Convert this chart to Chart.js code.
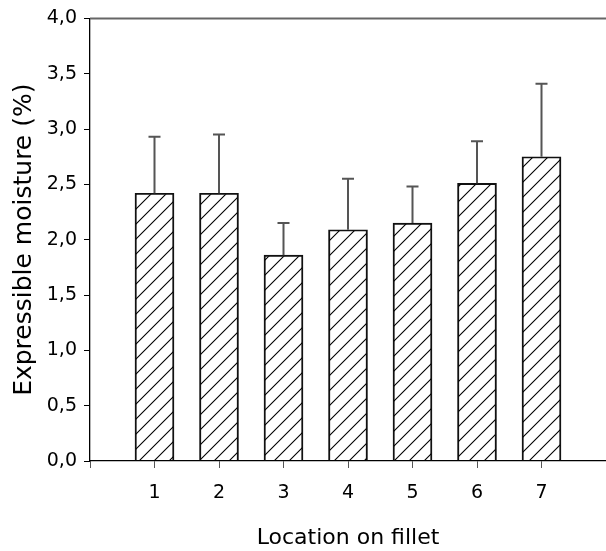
<!DOCTYPE html>
<html>
<head>
<meta charset="utf-8">
<script src="https://cdn.jsdelivr.net/npm/chart.js@4/dist/chart.umd.min.js"></script>
<style>
  html, body { margin: 0; padding: 0; background: #fff; }
  #wrap { width: 606px; height: 551px; }
</style>
</head>
<body>
<div id="wrap"><canvas id="chart"></canvas></div>
<script>
// locations along the fillet, mean expressible moisture and the upper SD
const locations = [1, 2, 3, 4, 5, 6, 7];
const moisture  = [2.42, 2.42, 1.86, 2.09, 2.15, 2.51, 2.75];
const sdUpper   = [0.51, 0.53, 0.29, 0.46, 0.33, 0.38, 0.66];

// diagonal hatch fill
function hatch() {
  const c = document.createElement('canvas');
  c.width = 15; c.height = 15;
  const g = c.getContext('2d');
  g.strokeStyle = '#000';
  g.lineWidth = 1.1;
  g.beginPath();
  g.moveTo(-1, 16); g.lineTo(16, -1);
  g.moveTo(-1, 1); g.lineTo(1, -1);
  g.moveTo(14, 16); g.lineTo(16, 14);
  g.stroke();
  return g.createPattern(c, 'repeat');
}

const errorBars = {
  id: 'errorBars',
  afterDatasetsDraw(chart) {
    const { ctx, scales: { x, y } } = chart;
    ctx.save();
    ctx.strokeStyle = '#555';
    ctx.lineWidth = 2;
    locations.forEach((loc, i) => {
      const px = x.getPixelForValue(loc);
      const y0 = y.getPixelForValue(moisture[i]);
      const y1 = y.getPixelForValue(moisture[i] + sdUpper[i]);
      ctx.beginPath();
      ctx.moveTo(px, y0); ctx.lineTo(px, y1);
      ctx.moveTo(px - 6, y1); ctx.lineTo(px + 6, y1);
      ctx.stroke();
    });
    ctx.restore();
  }
};

const topLine = {
  id: 'topLine',
  afterDraw(chart) {
    const { ctx, chartArea: a } = chart;
    ctx.save();
    ctx.strokeStyle = '#666';
    ctx.lineWidth = 2;
    ctx.beginPath();
    ctx.moveTo(a.left, a.top); ctx.lineTo(a.right, a.top);
    ctx.stroke();
    ctx.restore();
  }
};

const font = "'DejaVu Sans', sans-serif";

new Chart(document.getElementById('chart'), {
  type: 'bar',
  data: {
    datasets: [{
      data: locations.map((l, i) => ({ x: l, y: moisture[i] })),
      backgroundColor: hatch(),
      borderColor: '#111',
      borderWidth: 1.3,
      borderSkipped: 'bottom',
      barThickness: 39,
    }]
  },
  options: {
    responsive: true,
    maintainAspectRatio: false,
    animation: false,
    layout: { padding: { top: 15, right: 0, left: 0, bottom: 0 } },
    plugins: { legend: { display: false }, tooltip: { enabled: false } },
    scales: {
      x: {
        type: 'linear', min: 0, max: 8, offset: false,
        afterBuildTicks: s => { s.ticks = [0, ...locations].map(v => ({ value: v })); },
        afterFit: s => { s.height = 90; },
        ticks: { color: '#000', font: { family: font, size: 19 }, padding: 14,
                 callback: v => (v === 0 ? '' : v) },
        grid: { offset: false, drawOnChartArea: false, drawTicks: true, tickLength: 7, color: '#555' },
        border: { color: '#000', width: 1.3 },
        title: { display: true, text: 'Location on fillet', color: '#000',
                 font: { family: font, size: 22 }, padding: { top: 0, bottom: 0 } }
      },
      y: {
        min: 0, max: 4,
        ticks: { stepSize: 0.5, color: '#000', font: { family: font, size: 19 }, padding: 7,
                 callback: v => v.toFixed(1).replace('.', ',') },
        afterFit: s => { s.width = 90; },
        grid: { drawOnChartArea: false, drawTicks: true, tickLength: 6, color: '#000' },
        border: { color: '#000', width: 1.3 },
        title: { display: true, text: 'Expressible moisture (%)', color: '#000',
                 font: { family: font, size: 25 }, padding: { top: 9, bottom: 0 } }
      }
    }
  },
  plugins: [errorBars, topLine]
});
</script>
</body>
</html>
